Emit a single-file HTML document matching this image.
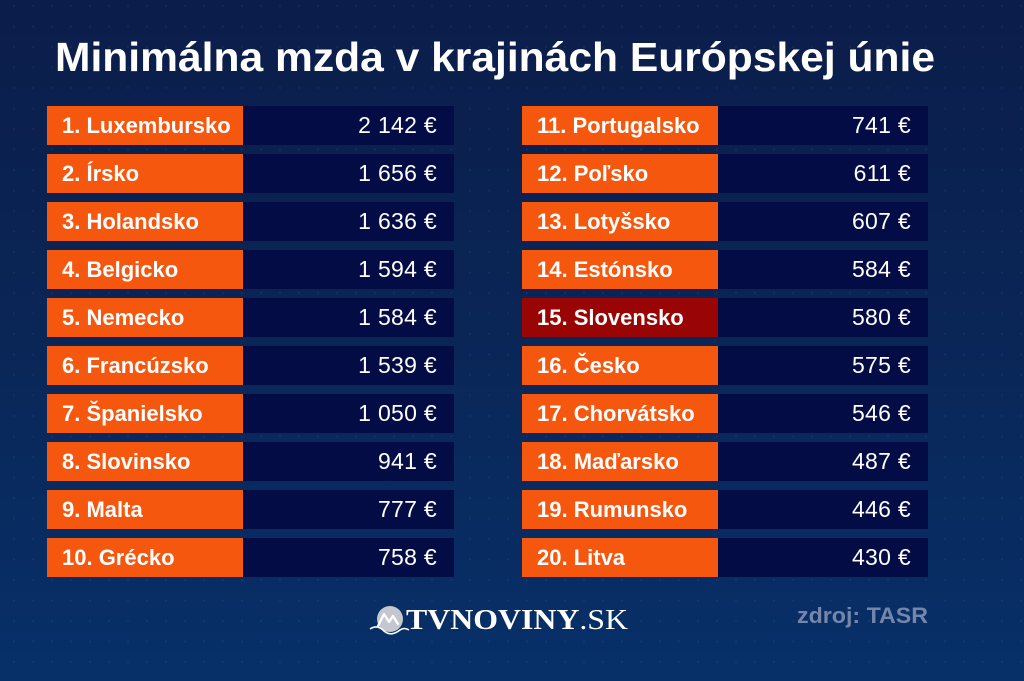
<!DOCTYPE html>
<html><head><meta charset="utf-8"><style>
html,body{margin:0;padding:0;background:#0a2150;}
svg{display:block;}
.lab{font-family:"Liberation Sans",sans-serif;font-weight:bold;font-size:22px;fill:#fff;}
.val{font-family:"Liberation Sans",sans-serif;font-size:23px;fill:#fff;letter-spacing:0.3px;}
</style></head><body>
<svg width="1024" height="681" viewBox="0 0 1024 681" xmlns="http://www.w3.org/2000/svg">
<defs>
<linearGradient id="bg" x1="0" y1="0" x2="0" y2="1">
<stop offset="0" stop-color="#0b1d4a"/>
<stop offset="0.5" stop-color="#0a2657"/>
<stop offset="1" stop-color="#073069"/>
</linearGradient>
<pattern id="dots" x="0" y="0" width="19" height="20.5" patternUnits="userSpaceOnUse">
<circle cx="14" cy="6" r="1" fill="#ffffff" fill-opacity="0.05"/>
</pattern>
</defs>
<rect width="1024" height="681" fill="url(#bg)"/>
<rect width="1024" height="681" fill="url(#dots)"/>

<text x="55" y="71" textLength="880" lengthAdjust="spacingAndGlyphs" font-family="Liberation Sans, sans-serif" font-weight="bold" font-size="41" fill="#fff">Minimálna mzda v krajinách Európskej únie</text>

<g>
<!-- left column -->
<rect x="47" y="106" width="196" height="39" fill="#f5570f"/><rect x="243" y="106" width="211" height="39" fill="#030c45"/>
<text class="lab" x="62" y="133">1. Luxembursko</text><text class="val" x="437" y="133" text-anchor="end">2 142 €</text>
<rect x="47" y="154" width="196" height="39" fill="#f5570f"/><rect x="243" y="154" width="211" height="39" fill="#030c45"/>
<text class="lab" x="62" y="181">2. Írsko</text><text class="val" x="437" y="181" text-anchor="end">1 656 €</text>
<rect x="47" y="202" width="196" height="39" fill="#f5570f"/><rect x="243" y="202" width="211" height="39" fill="#030c45"/>
<text class="lab" x="62" y="229">3. Holandsko</text><text class="val" x="437" y="229" text-anchor="end">1 636 €</text>
<rect x="47" y="250" width="196" height="39" fill="#f5570f"/><rect x="243" y="250" width="211" height="39" fill="#030c45"/>
<text class="lab" x="62" y="277">4. Belgicko</text><text class="val" x="437" y="277" text-anchor="end">1 594 €</text>
<rect x="47" y="298" width="196" height="39" fill="#f5570f"/><rect x="243" y="298" width="211" height="39" fill="#030c45"/>
<text class="lab" x="62" y="325">5. Nemecko</text><text class="val" x="437" y="325" text-anchor="end">1 584 €</text>
<rect x="47" y="346" width="196" height="39" fill="#f5570f"/><rect x="243" y="346" width="211" height="39" fill="#030c45"/>
<text class="lab" x="62" y="373">6. Francúzsko</text><text class="val" x="437" y="373" text-anchor="end">1 539 €</text>
<rect x="47" y="394" width="196" height="39" fill="#f5570f"/><rect x="243" y="394" width="211" height="39" fill="#030c45"/>
<text class="lab" x="62" y="421">7. Španielsko</text><text class="val" x="437" y="421" text-anchor="end">1 050 €</text>
<rect x="47" y="442" width="196" height="39" fill="#f5570f"/><rect x="243" y="442" width="211" height="39" fill="#030c45"/>
<text class="lab" x="62" y="469">8. Slovinsko</text><text class="val" x="437" y="469" text-anchor="end">941 €</text>
<rect x="47" y="490" width="196" height="39" fill="#f5570f"/><rect x="243" y="490" width="211" height="39" fill="#030c45"/>
<text class="lab" x="62" y="517">9. Malta</text><text class="val" x="437" y="517" text-anchor="end">777 €</text>
<rect x="47" y="538" width="196" height="39" fill="#f5570f"/><rect x="243" y="538" width="211" height="39" fill="#030c45"/>
<text class="lab" x="62" y="565">10. Grécko</text><text class="val" x="437" y="565" text-anchor="end">758 €</text>

<!-- right column -->
<rect x="522" y="106" width="196" height="39" fill="#f5570f"/><rect x="718" y="106" width="210" height="39" fill="#030c45"/>
<text class="lab" x="537" y="133">11. Portugalsko</text><text class="val" x="911" y="133" text-anchor="end">741 €</text>
<rect x="522" y="154" width="196" height="39" fill="#f5570f"/><rect x="718" y="154" width="210" height="39" fill="#030c45"/>
<text class="lab" x="537" y="181">12. Poľsko</text><text class="val" x="911" y="181" text-anchor="end">611 €</text>
<rect x="522" y="202" width="196" height="39" fill="#f5570f"/><rect x="718" y="202" width="210" height="39" fill="#030c45"/>
<text class="lab" x="537" y="229">13. Lotyšsko</text><text class="val" x="911" y="229" text-anchor="end">607 €</text>
<rect x="522" y="250" width="196" height="39" fill="#f5570f"/><rect x="718" y="250" width="210" height="39" fill="#030c45"/>
<text class="lab" x="537" y="277">14. Estónsko</text><text class="val" x="911" y="277" text-anchor="end">584 €</text>
<rect x="522" y="298" width="196" height="39" fill="#990404"/><rect x="718" y="298" width="210" height="39" fill="#030c45"/>
<text class="lab" x="537" y="325">15. Slovensko</text><text class="val" x="911" y="325" text-anchor="end">580 €</text>
<rect x="522" y="346" width="196" height="39" fill="#f5570f"/><rect x="718" y="346" width="210" height="39" fill="#030c45"/>
<text class="lab" x="537" y="373">16. Česko</text><text class="val" x="911" y="373" text-anchor="end">575 €</text>
<rect x="522" y="394" width="196" height="39" fill="#f5570f"/><rect x="718" y="394" width="210" height="39" fill="#030c45"/>
<text class="lab" x="537" y="421">17. Chorvátsko</text><text class="val" x="911" y="421" text-anchor="end">546 €</text>
<rect x="522" y="442" width="196" height="39" fill="#f5570f"/><rect x="718" y="442" width="210" height="39" fill="#030c45"/>
<text class="lab" x="537" y="469">18. Maďarsko</text><text class="val" x="911" y="469" text-anchor="end">487 €</text>
<rect x="522" y="490" width="196" height="39" fill="#f5570f"/><rect x="718" y="490" width="210" height="39" fill="#030c45"/>
<text class="lab" x="537" y="517">19. Rumunsko</text><text class="val" x="911" y="517" text-anchor="end">446 €</text>
<rect x="522" y="538" width="196" height="39" fill="#f5570f"/><rect x="718" y="538" width="210" height="39" fill="#030c45"/>
<text class="lab" x="537" y="565">20. Litva</text><text class="val" x="911" y="565" text-anchor="end">430 €</text>
</g>

<!-- logo -->
<circle cx="390" cy="619" r="13" fill="#c4c8ce"/>
<path d="M378 626 L384 614 L389 622 L393 616 L398 624" fill="none" stroke="#fff" stroke-width="2.2" stroke-linejoin="round" stroke-linecap="round"/>
<path d="M370 629 Q377 624 384 631 Q391 637 400 630 Q404 627 409 630" fill="none" stroke="#fff" stroke-width="1.6"/>
<text x="406" y="629" textLength="222" lengthAdjust="spacingAndGlyphs" font-family="Liberation Serif, serif" font-size="29" fill="#fff"><tspan font-weight="bold">TVNOVINY</tspan>.SK</text>

<text x="928" y="623" text-anchor="end" textLength="131" lengthAdjust="spacingAndGlyphs" font-family="Liberation Sans, sans-serif" font-weight="bold" font-size="22" fill="#7586aa">zdroj: TASR</text>
</svg>
</body></html>
